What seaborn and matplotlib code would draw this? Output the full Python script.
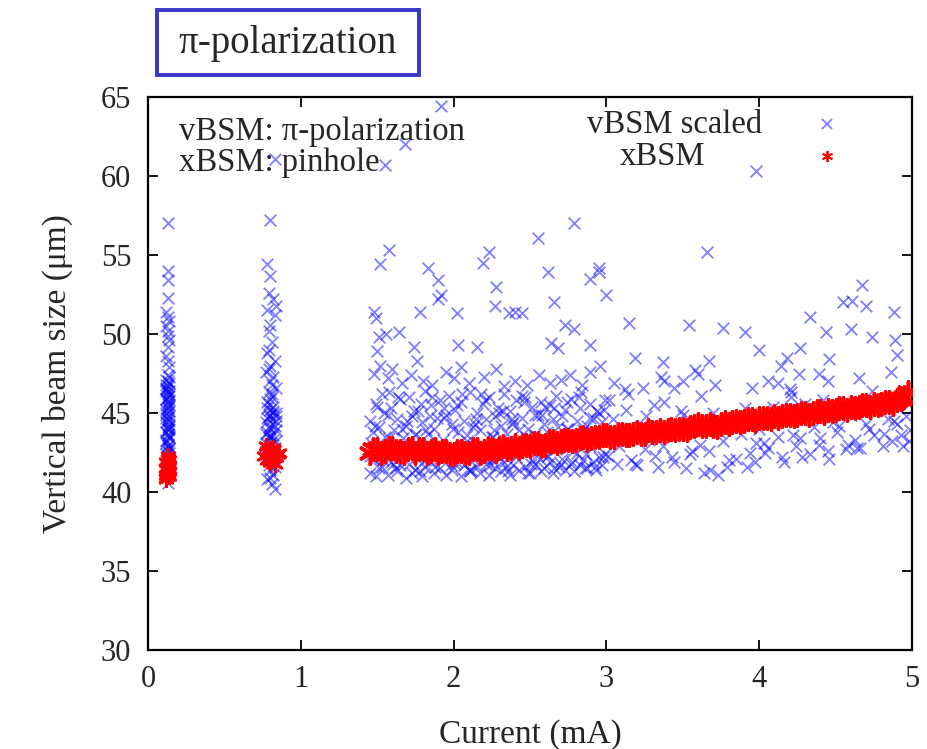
import matplotlib
matplotlib.use("Agg")
import matplotlib.pyplot as plt
from matplotlib.lines import Line2D
from matplotlib.patches import Rectangle
import seaborn as sns
import pandas as pd

# ---------------- data ----------------
# cluster near 0.13 mA (vBSM)
c1_x = [0.13,0.13,0.13,0.13,0.12,0.13,0.14,0.12,0.13,0.13,
        0.14,0.13,0.12,0.13,0.14,0.13,0.12,0.14,0.13,0.12,
        0.13,0.14,0.12,0.13,0.14,0.13,0.12,0.14,0.13,0.12,
        0.14,0.13,0.12,0.13,0.14,0.12,0.13,0.14,0.13,0.12,
        0.14,0.13,0.12,0.14,0.13,0.13,0.12,0.14,0.13,0.12,
        0.14,0.13,0.12,0.14,0.13,0.12,0.14,0.13]
c1_y = [57.0,54.0,53.4,52.3,51.4,51.1,50.8,50.5,50.2,49.9,
        49.6,49.2,48.6,48.3,47.9,47.4,47.1,46.9,46.7,46.5,
        46.3,46.1,45.9,45.7,45.5,45.3,45.0,44.8,44.6,44.4,
        44.2,44.0,43.8,43.6,43.4,43.2,43.0,42.8,42.6,42.4,
        42.2,41.9,41.6,41.3,41.0,40.6,46.8,46.2,45.6,45.2,
        44.5,43.9,43.3,42.7,47.0,46.4,45.1,44.1]
c1b_x = [0.12,0.14,0.13,0.12,0.14,0.13,0.12,0.14,0.13,0.12,
         0.14,0.13,0.12,0.14,0.13,0.12,0.14,0.13,0.12,0.14]
c1b_y = [46.6,45.8,45.4,44.9,44.3,43.7,43.1,42.5,41.8,41.4,
         47.3,46.0,44.7,43.5,42.1,45.9,44.0,42.9,41.2,46.4]
# cluster near 0.8 mA (vBSM)
c2_x = [0.80,0.78,0.80,0.79,0.82,0.84,0.78,0.83,0.80,0.79,
        0.81,0.78,0.83,0.80,0.77,0.82,0.80,0.84,0.79,0.81,
        0.78,0.82,0.80,0.84,0.79,0.81,0.77,0.83,0.80,0.78,
        0.82,0.79,0.84,0.80,0.78,0.81,0.83,0.79,0.80,0.82,
        0.78,0.81,0.83,0.83,0.78,0.84,0.77,0.81,0.79,0.80]
c2_y = [57.2,54.4,53.7,52.6,52.2,51.8,51.5,51.2,50.6,50.2,
        49.5,48.8,48.3,48.0,47.6,47.3,47.0,46.6,46.3,46.0,
        45.7,45.4,45.2,45.0,44.8,44.6,44.4,44.2,44.0,43.8,
        43.6,43.4,43.2,43.0,42.7,42.4,42.0,41.7,41.4,41.1,
        40.8,40.5,40.2,61.1,45.3,44.5,43.7,46.8,49.0,44.9]
c2b_x = [0.79,0.82,0.78,0.81,0.84,0.80,0.77,0.83,0.80,0.79,
         0.82,0.78,0.81,0.84,0.80,0.77,0.83,0.80,0.79,0.82]
c2b_y = [45.6,45.1,44.7,44.3,43.9,43.5,43.1,42.8,45.9,44.1,
         43.3,42.6,46.2,44.8,43.6,42.3,41.6,40.9,47.8,45.0]
# dense band 1.45 - 3.0 mA (vBSM)
bandA_x = [1.45,1.47,1.49,1.51,1.53,1.55,1.57,1.59,1.61,1.63,
           1.65,1.67,1.69,1.71,1.73,1.75,1.77,1.79,1.81,1.83,
           1.85,1.87,1.89,1.91,1.93,1.95,1.97,1.99,2.01,2.03,
           2.05,2.07,2.09,2.11,2.13,2.15,2.17,2.19,2.21,2.23,
           2.25,2.27,2.29,2.31,2.33,2.35,2.37,2.39,2.41,2.43,
           2.45,2.47,2.49,2.51,2.53,2.55,2.57,2.59,2.61,2.63,
           2.65,2.67,2.69,2.71,2.73,2.75,2.77,2.79,2.81,2.83,
           2.85,2.87,2.89,2.91,2.93,2.95,2.97,2.99]
bandA_low = [41.2,42.1,41.0,43.0,41.6,42.4,41.1,41.9,42.8,41.3,
             41.7,42.5,40.9,41.8,42.9,41.4,42.2,41.0,41.6,43.1,
             41.9,41.2,42.6,41.5,42.0,41.1,42.7,41.4,41.8,42.3,
             41.0,41.7,43.0,41.3,42.1,41.6,41.2,42.5,41.8,41.1,
             42.0,41.5,42.8,41.3,41.9,42.4,41.1,41.7,42.2,41.4,
             42.9,41.6,41.2,42.0,41.8,42.6,41.3,41.5,42.3,41.9,
             41.2,42.7,41.6,42.1,41.4,42.8,41.8,41.3,42.5,41.7,
             42.0,41.5,42.9,41.9,41.4,42.2,41.7,42.4]
bandA_mid = [44.5,43.8,45.6,44.1,46.2,43.5,44.9,45.3,43.9,44.6,
             45.9,43.4,44.2,46.0,44.8,43.6,45.1,44.4,46.4,43.7,
             45.5,44.0,44.7,45.8,43.3,44.9,46.1,44.3,45.2,43.8,
             45.7,44.5,43.6,46.3,44.1,45.0,43.9,45.6,44.6,46.0,
             43.5,44.8,45.3,44.2,46.2,43.7,45.1,44.4,45.8,43.9,
             44.7,46.0,44.0,45.4,43.6,44.9,45.7,44.3,43.8,45.5,
             44.6,46.1,43.4,44.8,45.2,44.0,45.9,43.7,44.5,45.3,
             43.9,44.2,45.6,44.7,43.5,45.0,44.4,45.8]
bandA3_x = [1.46,1.50,1.54,1.58,1.62,1.66,1.70,1.74,1.78,1.82,
            1.86,1.90,1.94,1.98,2.02,2.06,2.10,2.14,2.18,2.22,
            2.26,2.30,2.34,2.38,2.42,2.46,2.50,2.54,2.58,2.62,
            2.66,2.70,2.74,2.78,2.82,2.86,2.90,2.94,2.98]
bandA3_y = [43.1,45.4,42.0,46.3,41.5,44.0,42.7,45.1,41.3,43.9,
            46.0,42.4,44.7,41.7,45.5,42.9,41.4,44.3,46.2,42.1,
            43.5,45.0,41.6,44.6,42.5,45.7,41.2,43.3,44.9,42.3,
            45.3,41.8,44.0,42.6,46.0,41.5,43.8,45.1,42.2]
bandA4_x = [1.455,1.485,1.515,1.545,1.575,1.605,1.635,1.665,1.695,1.725,
            1.755,1.785,1.815,1.845,1.875,1.905,1.935,1.965,1.995,2.025,
            2.055,2.085,2.115,2.145,2.175,2.205,2.235,2.265,2.295,2.325,
            2.355,2.385,2.415,2.445,2.475,2.505,2.535,2.565,2.595,2.625,
            2.655,2.685,2.715,2.745,2.775,2.805,2.835,2.865,2.895,2.925,
            2.955,2.985]
bandA4_y = [42.3,44.2,41.5,45.0,43.4,41.8,46.0,42.6,44.5,41.2,
            43.7,45.6,42.0,44.8,41.6,43.0,45.3,42.4,44.0,41.9,
            46.2,43.2,41.4,44.6,42.8,45.8,41.7,43.9,42.2,45.1,
            41.3,44.3,42.7,46.1,43.5,41.8,44.9,42.1,45.4,43.1,
            41.5,44.1,42.9,45.7,41.9,43.6,46.3,42.4,44.7,41.6,
            43.8,45.2]
# band 3.0 - 5.0 mA (vBSM)
bandB_x = [3.01,3.04,3.07,3.10,3.13,3.16,3.19,3.22,3.25,3.28,
           3.31,3.34,3.37,3.40,3.43,3.46,3.49,3.52,3.55,3.58,
           3.61,3.64,3.67,3.70,3.73,3.76,3.79,3.82,3.85,3.88,
           3.91,3.94,3.97,4.00,4.03,4.06,4.09,4.12,4.15,4.18,
           4.21,4.24,4.27,4.30,4.33,4.36,4.39,4.42,4.45,4.48,
           4.51,4.54,4.57,4.60,4.63,4.66,4.69,4.72,4.75,4.78,
           4.81,4.84,4.87,4.90,4.93,4.96,4.99]
bandB_y = [42.3,44.6,41.8,43.5,45.2,42.0,41.8,44.1,42.7,43.3,
           45.5,41.6,42.9,44.0,42.2,43.6,45.1,41.5,42.4,44.3,
           43.0,41.2,42.6,45.0,41.1,43.2,41.6,44.5,42.1,43.7,
           45.3,42.5,41.9,44.0,43.1,42.8,45.4,43.5,42.2,44.7,
           46.0,42.9,43.4,45.6,42.4,44.1,43.0,45.8,42.6,44.4,
           43.8,45.2,42.7,44.9,43.3,42.8,45.5,44.0,43.6,45.9,
           42.9,44.6,43.2,44.3,43.6,44.8,43.9]
bandB2_x = [3.02,3.08,3.14,3.20,3.26,3.32,3.38,3.44,3.50,3.56,
            3.62,3.68,3.74,3.80,3.86,3.92,3.98,4.04,4.10,4.16,
            4.22,4.28,4.34,4.40,4.46,4.52,4.58,4.64,4.70,4.76,
            4.82,4.88,4.94,4.98]
bandB2_y = [45.8,42.9,46.2,41.7,44.8,42.3,45.7,41.9,44.9,42.6,
            46.1,41.4,43.8,42.0,44.4,41.6,43.1,42.5,45.1,41.9,
            43.6,42.2,44.9,43.4,42.1,44.2,43.0,42.8,44.3,45.3,
            43.7,44.5,42.9,43.2]
# scattered points 46.5 - 49.5 um (vBSM)
mid_x = [3.19,3.37,3.36,3.38,3.50,3.58,3.60,3.67,4.14,4.18,
         4.27,4.26,4.06,4.12,4.20,4.21,4.39,4.45,4.46,4.65,
         4.74,4.86,3.24,2.63,2.76,2.89,2.96,3.05,1.50,1.74,
         2.03,2.15,2.64,2.68,2.89,1.48,1.52,1.57,1.60,1.66,
         1.72,1.76,1.80,1.86,1.95,2.00,2.05,2.10,2.20,2.28,
         2.33,2.40,2.48,2.56,2.70,2.84,3.12,3.44,3.71,3.95]
mid_y = [48.5,48.2,47.3,47.0,47.0,47.7,47.5,48.3,48.0,48.5,
         49.1,47.5,47.0,46.9,46.5,46.3,47.5,47.0,48.4,47.2,
         46.4,47.6,46.6,46.9,47.4,47.6,48.0,46.9,48.9,49.2,
         49.3,49.2,49.4,49.1,49.3,47.5,48.0,47.2,47.8,46.9,
         47.4,48.3,47.0,46.8,47.6,47.2,47.9,46.9,47.3,47.8,
         46.7,47.0,46.8,47.4,47.1,46.8,46.5,46.6,46.8,46.6]
# high outliers (vBSM)
out_x = [1.92,1.68,1.55,3.98,1.58,1.52,1.83,1.90,1.92,1.90,
         2.23,2.19,2.28,2.27,2.36,2.40,2.45,2.55,2.62,2.66,
         2.73,2.79,2.89,2.95,2.95,3.00,3.15,1.78,2.02,1.48,
         1.49,1.51,1.56,1.64,2.79,3.66,4.67,4.55,4.61,4.70,
         4.33,4.88,3.54,3.76,3.91,4.44,4.60,4.74,4.89,4.90,
         4.00]
out_y = [64.4,62.0,60.7,60.3,55.3,54.4,54.2,53.4,52.5,52.2,
         55.2,54.5,53.0,51.8,51.3,51.4,51.3,56.1,53.9,52.0,
         50.6,50.3,53.5,54.2,53.9,52.5,50.7,51.4,51.3,51.4,
         51.0,49.8,50.0,50.1,57.0,55.2,53.1,52.0,52.1,51.8,
         51.1,51.4,50.6,50.4,50.1,50.1,50.3,49.8,49.6,48.7,
         49.0]

# xBSM
rc1_x = [0.12,0.13,0.14,0.12,0.13,0.14,0.12,0.13,0.14,0.13,0.12,0.14,0.13,0.12]
rc1_y = [40.9,41.2,41.0,41.5,41.4,41.7,41.9,42.1,41.3,42.3,40.8,42.0,41.6,41.1]
rc2_x = [0.76,0.78,0.80,0.82,0.84,0.86,0.77,0.79,0.81,0.83,0.85,0.80,0.78,0.82]
rc2_y = [42.3,42.6,41.9,42.8,42.2,42.5,42.9,42.1,42.6,41.8,42.4,42.7,42.0,42.3]
r1_x = [1.45,1.50,1.55,1.60,1.65,1.70,1.75,1.80,1.85,1.90,
        1.95,2.00,2.05,2.10,2.15,2.20,2.25,2.30,2.35,2.40,
        2.45,2.50,2.55,2.60,2.65,2.70,2.75,2.80,2.85,2.90,
        2.95,3.00,3.05,3.10,3.15,3.20,3.25,3.30,3.35,3.40,
        3.45,3.50,3.55,3.60,3.65,3.70,3.75,3.80,3.85,3.90,
        3.95,4.00,4.05,4.10,4.15,4.20,4.25,4.30,4.35,4.40,
        4.45,4.50,4.55,4.60,4.65,4.70,4.75,4.80,4.85,4.90,
        4.95]
r1_y = [42.5,42.7,42.6,42.8,42.6,42.7,42.5,42.7,42.6,42.5,
        42.6,42.4,42.6,42.5,42.7,42.6,42.7,42.8,42.7,43.0,
        42.9,42.9,43.1,43.0,43.2,43.2,43.3,43.3,43.5,43.4,
        43.5,43.6,43.5,43.7,43.6,43.8,43.7,43.8,43.9,43.9,
        43.9,44.0,44.1,44.3,44.2,44.2,44.3,44.3,44.5,44.5,
        44.6,44.7,44.7,44.8,44.8,44.9,44.9,45.0,45.0,45.1,
        45.2,45.2,45.3,45.4,45.4,45.5,45.6,45.6,45.7,45.8,
        46.0]
r2_x = [1.475,1.525,1.575,1.625,1.675,1.725,1.775,1.825,1.875,1.925,
        1.975,2.025,2.075,2.125,2.175,2.225,2.275,2.325,2.375,2.425,
        2.475,2.525,2.575,2.625,2.675,2.725,2.775,2.825,2.875,2.925,
        2.975,3.025,3.075,3.125,3.175,3.225,3.275,3.325,3.375,3.425,
        3.475,3.525,3.575,3.625,3.675,3.725,3.775,3.825,3.875,3.925,
        3.975,4.025,4.075,4.125,4.175,4.225,4.275,4.325,4.375,4.425,
        4.475,4.525,4.575,4.625,4.675,4.725,4.775,4.825,4.875,4.925,
        4.975]
r2_y = [42.7,42.5,42.8,42.6,42.5,42.8,42.7,42.5,42.7,42.6,
        42.4,42.6,42.5,42.7,42.5,42.8,42.6,42.9,42.8,42.8,
        43.0,43.1,42.9,43.2,43.1,43.3,43.2,43.4,43.3,43.5,
        43.6,43.5,43.7,43.6,43.7,43.7,43.9,43.8,43.8,44.0,
        44.0,43.9,44.2,44.2,44.3,44.1,44.4,44.4,44.4,44.6,
        44.5,44.7,44.6,44.7,44.9,44.8,45.0,44.9,45.1,45.0,
        45.1,45.3,45.2,45.3,45.5,45.4,45.5,45.7,45.6,45.9,
        46.3]

x_ticks = [0, 1, 2, 3, 4, 5]
y_ticks = [30, 35, 40, 45, 50, 55, 60, 65]

# ---------------- figure ----------------
sns.set_style("ticks")
plt.rcParams['font.family'] = ['Liberation Serif', 'DejaVu Serif']

vx = (c1_x + c1b_x + c2_x + c2b_x + bandA_x + bandA_x + bandA3_x + bandA4_x
      + bandB_x + bandB2_x + mid_x + out_x)
vy = (c1_y + c1b_y + c2_y + c2b_y + bandA_low + bandA_mid + bandA3_y + bandA4_y
      + bandB_y + bandB2_y + mid_y + out_y)
df_v = pd.DataFrame({"current": vx, "size": vy})
df_xc = pd.DataFrame({"current": rc1_x + rc2_x, "size": rc1_y + rc2_y})
df_xr = pd.DataFrame({"current": r1_x + r2_x, "size": r1_y + r2_y})

W, H = 928, 749
fig = plt.figure(figsize=(W / 100, H / 100), dpi=100)
ax = fig.add_axes([148 / W, 1 - 650 / H, (912 - 148) / W, (650 - 97) / H])

blue = (0.0, 0.0, 1.0, 0.5)
sns.scatterplot(data=df_v, x="current", y="size", ax=ax, marker="x",
                color=blue, s=70, linewidth=1.3, legend=False, zorder=2)
asterisk = (6, 2, 0)
sns.scatterplot(data=df_xc, x="current", y="size", ax=ax, marker=asterisk,
                color="red", edgecolor="red", s=110, linewidth=2.0,
                legend=False, zorder=3)
sns.scatterplot(data=df_xr, x="current", y="size", ax=ax, marker=asterisk,
                color="red", edgecolor="red", s=230, linewidth=2.6,
                legend=False, zorder=3)

ax.set_xlim(0, 5)
ax.set_ylim(30, 65)
ax.set_xticks(x_ticks)
ax.set_yticks(y_ticks)
ax.set_xticklabels([str(t) for t in x_ticks])
ax.set_yticklabels([str(t) for t in y_ticks])
ax.tick_params(direction="in", top=True, right=True, length=7, width=1.3,
               labelsize=22, color="black")
ax.tick_params(axis="y", pad=12)
ax.tick_params(axis="x", pad=11)
for sp in ax.spines.values():
    sp.set_visible(True)
    sp.set_linewidth(1.6)
    sp.set_color("black")

ax.set_xlabel("Current (mA)", fontsize=24, labelpad=18)
ax.set_ylabel("Vertical beam size (μm)", fontsize=24, labelpad=20)

# left annotation
ax.text(0.04, 0.938, "vBSM: π-polarization", transform=ax.transAxes,
        fontsize=23.5, va="center", ha="left")
ax.text(0.04, 0.881, "xBSM: pinhole", transform=ax.transAxes,
        fontsize=23.5, va="center", ha="left")

# legend (markers) + labels
h1 = Line2D([], [], linestyle="none", marker="x", color=blue,
            markersize=7, markeredgewidth=1.3)
h2 = Line2D([], [], linestyle="none", marker=asterisk, color="red",
            markersize=8, markeredgewidth=1.3)
leg = ax.legend([h1, h2], ["", ""], loc="center",
                bbox_to_anchor=(827 / W, 1 - 143 / H),
                bbox_transform=fig.transFigure, frameon=False,
                handlelength=1.0, handletextpad=0.0, borderpad=0.0,
                labelspacing=0.25, fontsize=20)
fig.text(762 / W, 1 - 125 / H, "vBSM scaled", fontsize=23.5,
         ha="right", va="center")
fig.text(662 / W, 1 - 157 / H, "xBSM", fontsize=23.5,
         ha="center", va="center")

# boxed title
fig.patches.append(Rectangle((157 / W, 1 - 75 / H), (419 - 157) / W, (75 - 10) / H,
                             transform=fig.transFigure, fill=False,
                             edgecolor="#3535c8", linewidth=2.8))
fig.text(288 / W, 1 - 44 / H, "π-polarization", fontsize=28,
         ha="center", va="center")

fig.savefig("out.png", dpi=100)
